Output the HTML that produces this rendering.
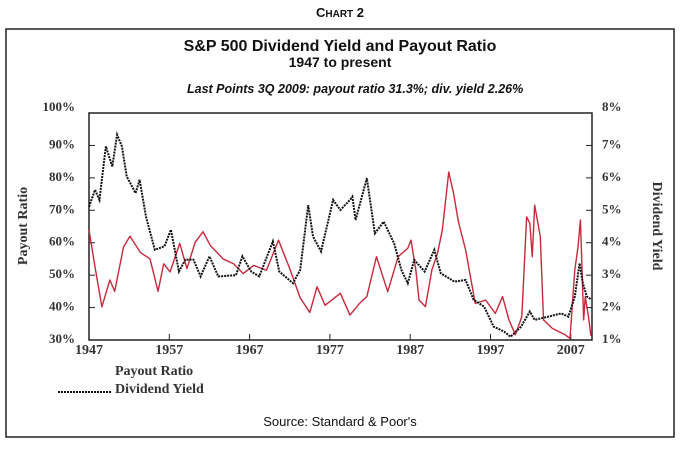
<!DOCTYPE html>
<html><head><meta charset="utf-8"><style>
body{margin:0;background:#fff;width:680px;height:447px;overflow:hidden}
svg text{font-family:"Liberation Serif",serif}
.sans{font-family:"Liberation Sans",sans-serif}
</style></head><body>
<svg id="c" width="680" height="447">
<text class="sans" x="340" y="17" text-anchor="middle" font-size="13" font-weight="bold" fill="#111" style="font-family:'Liberation Sans',sans-serif">C<tspan font-size="10">HART</tspan> 2</text>
<rect x="6" y="29" width="668" height="408" fill="none" stroke="#222" stroke-width="1.5"/>
<text x="340" y="51" text-anchor="middle" font-size="16" font-weight="bold" fill="#111" style="font-family:'Liberation Sans',sans-serif">S&amp;P 500 Dividend Yield and Payout Ratio</text>
<text x="340" y="67" text-anchor="middle" font-size="14" font-weight="bold" fill="#111" style="font-family:'Liberation Sans',sans-serif">1947 to present</text>
<text x="187" y="93" font-size="12.5" font-weight="bold" font-style="italic" fill="#111" style="font-family:'Liberation Sans',sans-serif">Last Points 3Q 2009: payout ratio 31.3%; div. yield 2.26%</text>
<text transform="translate(27,226) rotate(-90)" text-anchor="middle" font-size="14" font-weight="bold" fill="#333">Payout Ratio</text>
<text transform="translate(653,226) rotate(90)" text-anchor="middle" font-size="14" font-weight="bold" fill="#333">Dividend Yield</text>
<g id="axes"></g>
<g id="series"></g>
<text x="115" y="375" font-size="14" font-weight="bold" fill="#333">Payout Ratio</text>
<line x1="58" y1="392" x2="112" y2="392" stroke="#111" stroke-width="2" stroke-dasharray="2,1"/>
<text x="115" y="393" font-size="14" font-weight="bold" fill="#333">Dividend Yield</text>
<text x="340" y="426" text-anchor="middle" font-size="13" fill="#111" style="font-family:'Liberation Sans',sans-serif">Source: Standard &amp; Poor's</text>
</svg>
<script>
const xTicks=[1947,1957,1967,1977,1987,1997,2007];
const leftTicks=[30,40,50,60,70,80,90,100];
const rightTicks=[1,2,3,4,5,6,7,8];
const payoutYears=[1947,1947.75,1948.6,1949.6,1950.2,1951.3,1952.1,1953.4,1954.6,1955.6,1956.3,1957.1,1958.3,1959.2,1960.2,1961.2,1962.1,1963.7,1965,1966.2,1967.5,1969.1,1970.6,1972,1973.3,1974.5,1975.4,1976.4,1978.3,1979.5,1980.7,1981.6,1982.8,1984.2,1985.5,1986.7,1987.1,1987.7,1988.1,1988.9,1989.7,1990.4,1991,1991.8,1992.4,1993,1993.9,1995.1,1996.4,1997.6,1998.5,1999.3,2000.1,2000.9,2001.5,2001.9,2002.2,2002.5,2003.2,2003.6,2004.7,2006.3,2006.9,2007.5,2007.9,2008.2,2008.6,2008.8,2009.2,2009.5];
const payoutValues=[64,52.5,40.2,48.5,45,58.7,62,57,55,45,53.5,51,59.8,52,60,63.4,59.2,55,53.5,50.5,53,51.5,60.8,52,43,38.5,46.4,40.7,44.4,37.7,41.3,43.4,55.7,44.9,55.7,58.3,60.8,51.6,42.3,40.3,51.6,56.7,63.9,81.8,75.2,66.5,57.8,41.3,42.3,38.2,43.4,36.2,31.6,37.2,68,66,55.7,71.6,61.9,36.2,33.6,31.6,30.5,51.6,58.8,67,36.2,43.4,37.2,31.3];
const yieldYears=[1947,1947.75,1948.3,1949.1,1949.9,1950.5,1951.1,1951.7,1952.8,1953.3,1954.1,1955.2,1956.4,1957.2,1958.2,1959,1960,1960.9,1962,1963.1,1965.3,1966.1,1967.2,1968.2,1969.9,1970.7,1972.4,1973.3,1974.3,1974.9,1975.9,1977.4,1978.3,1979.5,1979.8,1980.2,1981.6,1982.6,1983.7,1985,1985.9,1986.7,1987.5,1988.8,1990,1990.8,1992.5,1993.9,1994.9,1996.2,1997.4,1998.7,1999.5,2000.8,2001.9,2002.5,2004.2,2005.8,2006.7,2007.5,2008.1,2008.5,2009,2009.5];
const yieldValues=[5.11,5.63,5.32,6.97,6.35,7.33,6.97,6.04,5.53,5.94,4.8,3.78,3.89,4.4,3.11,3.48,3.48,2.96,3.58,2.96,3.0,3.58,3.11,2.96,4.04,3.11,2.75,3.16,5.16,4.19,3.73,5.32,5.01,5.32,5.42,4.7,5.99,4.29,4.65,3.98,3.16,2.75,3.47,3.11,3.78,3.06,2.8,2.85,2.24,2.03,1.41,1.26,1.1,1.41,1.88,1.62,1.72,1.82,1.72,2.34,3.37,2.75,2.34,2.26];
const L=89,R=592,T=113,B=340;
const x=y=>L+(y-1947)*8.03;
const yl=v=>B-(v-30)*(B-T)/70;
const yr=v=>B-(v-1)*(B-T)/7;
const NS='http://www.w3.org/2000/svg';
function mk(tag,attrs,parent){const e=document.createElementNS(NS,tag);for(const k in attrs)e.setAttribute(k,attrs[k]);parent.appendChild(e);return e;}
const ax=document.getElementById('axes'), se=document.getElementById('series');
const box=mk('rect',{x:L,y:T,width:R-L,height:B-T,fill:'none',stroke:'#222','stroke-width':1.5},ax);


xTicks.forEach(t=>{
 mk('line',{x1:x(t),x2:x(t),y1:B,y2:B-6,stroke:'#222'},ax);
 const tx=mk('text',{x:x(t),y:B+14,'text-anchor':'middle','font-size':14,'font-weight':'bold',fill:'#333'},ax);
 tx.textContent=t;
 
 
});
leftTicks.forEach(t=>{
 if(t>30&&t<100)mk('line',{x1:L,x2:L+6,y1:yl(t),y2:yl(t),stroke:'#222'},ax);
 const tx=mk('text',{x:L-14,y:yl(t)+(t==100?-2:3),'text-anchor':'end','font-size':13,'font-weight':'bold',fill:'#333'},ax);
 tx.textContent=t+'%';
 
 
});
rightTicks.forEach(t=>{
 if(t>1&&t<8)mk('line',{x1:R,x2:R-6,y1:yr(t),y2:yr(t),stroke:'#222'},ax);
 const tx=mk('text',{x:R+10,y:yr(t)+(t==8?-2:3),'font-size':13,'font-weight':'bold',fill:'#333'},ax);
 tx.textContent=t+'%';
 
 
});
const p1=mk('polyline',{points:payoutYears.map((d,i)=>x(d)+','+yl(payoutValues[i])).join(' '),fill:'none',stroke:'#c8283c','stroke-width':1.4,'stroke-linejoin':'round'},se);


const p2=mk('polyline',{points:yieldYears.map((d,i)=>x(d)+','+yr(yieldValues[i])).join(' '),fill:'none',stroke:'#111','stroke-width':2,'stroke-dasharray':'2,1'},se);


</script>
</body></html>
